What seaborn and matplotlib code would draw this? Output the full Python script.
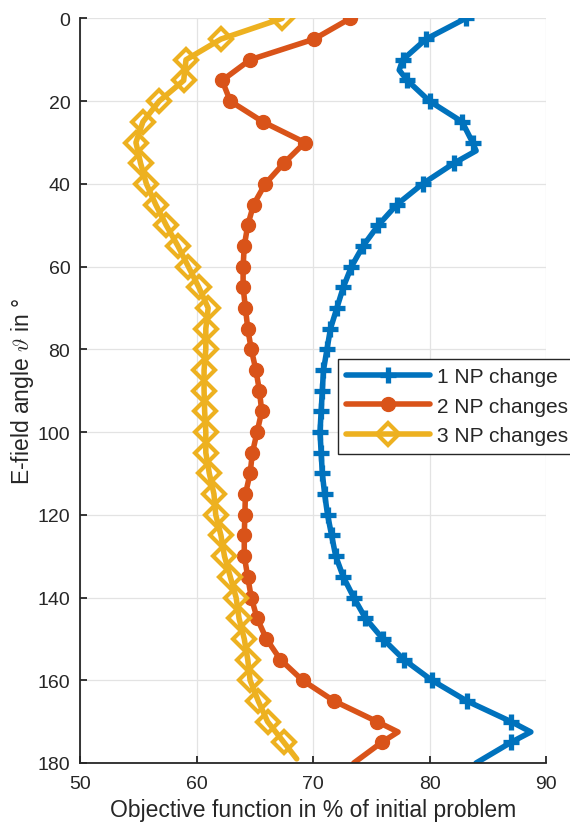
import matplotlib
matplotlib.use("Agg")
import matplotlib.pyplot as plt
import seaborn as sns
import pandas as pd

# E-field angle (degrees) and objective value (% of initial problem) per case
angle_1np = [0, 5, 10, 12.5, 15, 20, 25, 30, 32, 35, 40, 45, 50, 55, 60, 65, 70, 75, 80, 85,
             90, 95, 100, 105, 110, 115, 120, 125, 130, 135, 140, 145, 150, 155, 160,
             165, 170, 172.5, 175, 180]
value_1np = [83.1, 79.7, 77.7, 77.4, 78.1, 80.0, 82.8, 83.7, 84.0, 82.1, 79.4, 77.2, 75.6,
             74.3, 73.3, 72.6, 72.05, 71.5, 71.2, 70.9, 70.8, 70.7, 70.6, 70.7, 70.8,
             71.0, 71.25, 71.6, 71.95, 72.6, 73.5, 74.5, 76.0, 77.8, 80.2, 83.2, 87.0,
             88.7, 87.0, 84.0]

angle_2np = [0, 5, 10, 15, 20, 25, 30, 35, 40, 45, 50, 55, 60, 65, 70, 75, 80, 85, 90, 95,
             100, 105, 110, 115, 120, 125, 130, 135, 140, 145, 150, 155, 160, 165, 170,
             172.5, 175, 180]
value_2np = [73.2, 70.1, 64.6, 62.2, 62.9, 65.7, 69.3, 67.5, 65.9, 64.9, 64.4, 64.1, 64.0,
             64.0, 64.2, 64.4, 64.7, 65.1, 65.4, 65.6, 65.2, 64.8, 64.6, 64.2, 64.15,
             64.1, 64.1, 64.4, 64.7, 65.2, 66.0, 67.2, 69.1, 71.8, 75.5, 77.3, 75.9, 73.5]

angle_3np = [0, 5, 10, 15, 20, 25, 30, 35, 40, 45, 50, 55, 60, 65, 70, 75, 80, 85, 90, 95,
             100, 105, 110, 115, 120, 125, 130, 135, 140, 145, 150, 155, 160, 165, 170,
             175, 179]
value_3np = [67.35, 62.1, 59.1, 58.9, 56.8, 55.4, 54.8, 55.2, 55.7, 56.5, 57.4, 58.4, 59.3,
             60.2, 61.0, 60.8, 60.8, 60.65, 60.65, 60.7, 60.8, 60.8, 61.1, 61.5, 61.65,
             62.1, 62.4, 62.9, 63.4, 63.65, 64.1, 64.4, 64.6, 65.3, 66.1, 67.5, 68.6]

series_labels = ["1 NP change", "2 NP changes", "3 NP changes"]
x_ticks = [50, 60, 70, 80, 90]
y_ticks = list(range(0, 181, 20))

colors = ["#0072BD", "#D95319", "#EDB120"]
marker_styles = [
    dict(marker="+", markersize=12, markeredgewidth=3.8),
    dict(marker="o", markersize=10, markeredgewidth=1),
    dict(marker="D", markersize=11, markeredgewidth=3, markerfacecolor="none"),
]

sns.set_theme(style="ticks")
plt.rcParams["font.family"] = ["Liberation Sans", "DejaVu Sans"]
plt.rcParams["mathtext.fontset"] = "cm"

text_color = "#262626"
fig = plt.figure(figsize=(5.70, 8.28), dpi=100)
ax = fig.add_axes([80 / 570, 1 - 764 / 828, (546 - 80) / 570, (764 - 19.4) / 828])

series = [(angle_1np, value_1np), (angle_2np, value_2np), (angle_3np, value_3np)]
for (angles, values), label, color, mstyle in zip(series, series_labels, colors, marker_styles):
    df = pd.DataFrame({"angle": angles, "value": values})
    # markers only on the regular 5-degree grid
    marks = [i for i, a in enumerate(angles) if a % 5 == 0 and a < 180]
    sns.lineplot(data=df, x="value", y="angle", orient="y", sort=False, estimator=None,
                 color=color, linewidth=4, label=label, markevery=marks,
                 markeredgecolor=color, ax=ax, **mstyle)

ax.set_xlim(50, 90)
ax.set_ylim(180, 0)
ax.set_xticks(x_ticks)
ax.set_yticks(y_ticks)
ax.grid(True, color="#e3e3e3", linewidth=0.9)
ax.set_axisbelow(True)
for side in ("top", "right"):
    ax.spines[side].set_visible(False)
for side in ("left", "bottom"):
    ax.spines[side].set_color(text_color)
    ax.spines[side].set_linewidth(1.3)
ax.tick_params(direction="in", length=5, width=1.3, color=text_color,
               labelsize=14, labelcolor=text_color)
ax.tick_params(axis="x", pad=9)
ax.tick_params(axis="y", pad=7)

ax.set_xlabel("Objective function in % of initial problem", fontsize=16.5, color=text_color,
              labelpad=4)
ax.set_ylabel(r"E-field angle $\vartheta$ in °", fontsize=16.5, color=text_color, labelpad=1)

leg = ax.legend(loc="upper left", bbox_to_anchor=(338 / 570, 1 - 360 / 828),
                bbox_transform=fig.transFigure, fontsize=15, handlelength=4.0,
                handletextpad=0.35, borderpad=0.4, labelspacing=0.5, borderaxespad=0,
                fancybox=False, framealpha=1, edgecolor=text_color)
leg.get_frame().set_linewidth(1.0)
for t in leg.get_texts():
    t.set_color(text_color)

fig.savefig("out.png", dpi=100)
